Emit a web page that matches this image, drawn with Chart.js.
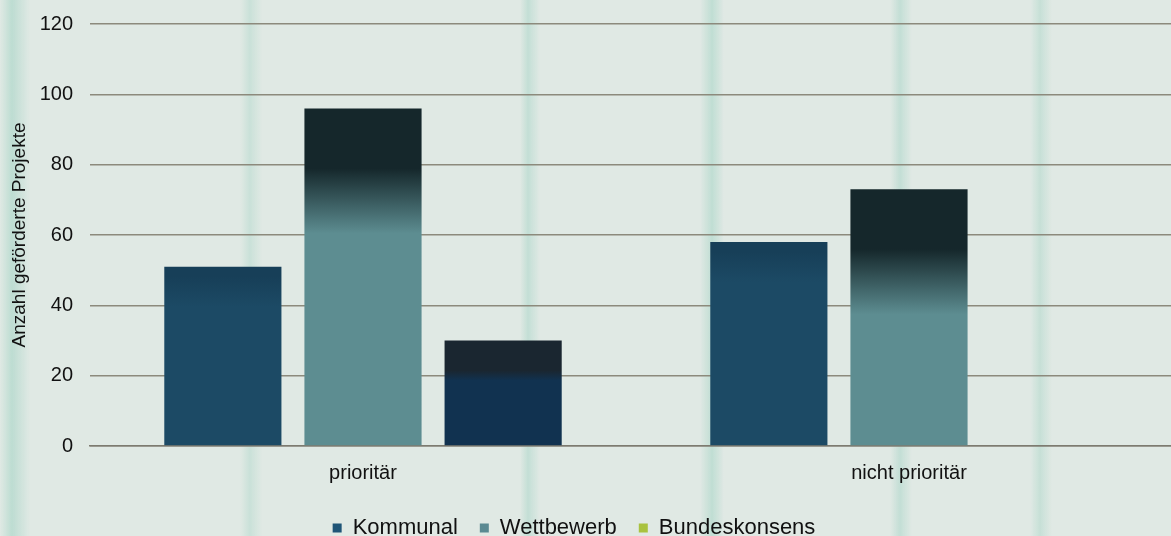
<!DOCTYPE html>
<html>
<head>
<meta charset="utf-8">
<script src="https://cdn.jsdelivr.net/npm/chart.js@4"></script>
<style>
  html, body { margin: 0; padding: 0; overflow: hidden; }
  body {
    width: 1171px; height: 536px;
    background-color: #e0e9e4;
    background-image:
      linear-gradient(90deg,
        rgba(160,210,195,0) 0px, rgba(160,210,195,.55) 12px, rgba(160,210,195,0) 30px,
        rgba(160,210,195,0) 240px, rgba(160,210,195,.35) 250px, rgba(160,210,195,0) 262px,
        rgba(160,210,195,0) 520px, rgba(160,210,195,.45) 528px, rgba(160,210,195,0) 540px,
        rgba(160,210,195,0) 700px, rgba(160,210,195,.5) 712px, rgba(160,210,195,0) 724px,
        rgba(160,210,195,0) 890px, rgba(160,210,195,.45) 900px, rgba(160,210,195,0) 912px,
        rgba(160,210,195,0) 1030px, rgba(160,210,195,.4) 1040px, rgba(160,210,195,0) 1052px);
  }
  #wrap { position: absolute; left: 0; top: -5px; width: 1182px; height: 554px; }
</style>
</head>
<body>
<div id="wrap"><canvas id="chart"></canvas></div>
<script>
(() => {
  'use strict'

  const categories = ['prioritär', 'nicht prioritär'];
  const seriesNames = ['Kommunal', 'Wettbewerb', 'Bundeskonsens'];
  const kommunal = [51, 58];
  const wettbewerb = [96, 73];
  const bundeskonsens = [30, 0];
  const yTicks = [0, 20, 40, 60, 80, 100, 120];

  const legendColors = ['#1f5577', '#5b8a92', '#a9c23f'];
  const font = 'Liberation Sans, Arial, sans-serif';

  // bars darken towards the top, like the printed version
  function shaded(top, bottom, stops) {
    return (context) => {
      const chart = context.chart;
      const area = chart.chartArea;
      const v = context.raw;
      if (!area || !v) return bottom;
      const y = chart.scales.y.getPixelForValue(v);
      const base = chart.scales.y.getPixelForValue(0);
      const g = chart.ctx.createLinearGradient(0, y, 0, base);
      const h = base - y;
      const a = Math.min(stops[0] / h, 1);
      const b = Math.min(stops[1] / h, 1);
      g.addColorStop(0, top);
      g.addColorStop(a, top);
      g.addColorStop(b, bottom);
      g.addColorStop(1, bottom);
      return g;
    };
  }

  // nudge the legend a little to the left of the canvas centre
  const legendShift = {
    id: 'legendShift',
    afterLayout(chart) {
      chart.legend.left -= 17;
      chart.legend.right -= 17;
    }
  };

  const ctx = document.getElementById('chart');

  new Chart(ctx, {
    type: 'bar',
    plugins: [legendShift],
    data: {
      labels: categories,
      datasets: [
        { label: seriesNames[0], data: kommunal,
          backgroundColor: shaded('#173f58', '#1c4a65', [10, 40]) },
        { label: seriesNames[1], data: wettbewerb,
          backgroundColor: shaded('#15272b', '#5d8d91', [60, 125]) },
        { label: seriesNames[2], data: bundeskonsens,
          backgroundColor: shaded('#1a2630', '#113250', [30, 40]) }
      ]
    },
    options: {
      responsive: true,
      maintainAspectRatio: false,
      animation: false,
      layout: { padding: { top: 11, left: 0, right: 0, bottom: 0 } },
      datasets: {
        bar: { categoryPercentage: 0.77, barPercentage: 0.836 }
      },
      scales: {
        x: {
          afterFit: (scale) => { scale.height = 49; },
          grid: { display: false, drawTicks: false },
          border: { color: '#7d7b70', width: 1.5 },
          ticks: {
            color: '#111',
            padding: 15,
            font: { family: font, size: 20 }
          }
        },
        y: {
          min: 0,
          max: 120,
          afterBuildTicks: (scale) => { scale.ticks = yTicks.map(v => ({ value: v })); },
          afterFit: (scale) => { scale.width = 90; },
          grid: { color: '#8c8a7c', lineWidth: 1.5, drawTicks: false },
          border: { display: false },
          ticks: {
            color: '#111',
            padding: 17,
            font: { family: font, size: 20 }
          },
          title: {
            display: true,
            text: 'Anzahl geförderte Projekte',
            color: '#111',
            padding: { top: 8, bottom: 0 },
            font: { family: font, size: 19 }
          }
        }
      },
      plugins: {
        legend: {
          position: 'bottom',
          labels: {
            color: '#111',
            boxWidth: 9,
            boxHeight: 9,
            padding: 22,
            font: { family: font, size: 22 },
            generateLabels: (chart) => chart.data.datasets.map((ds, i) => ({
              text: ds.label,
              fillStyle: legendColors[i],
              strokeStyle: legendColors[i],
              lineWidth: 0,
              fontColor: '#111',
              datasetIndex: i
            }))
          }
        },
        tooltip: { enabled: false }
      }
    }
  })
})()
</script>
</body>
</html>
